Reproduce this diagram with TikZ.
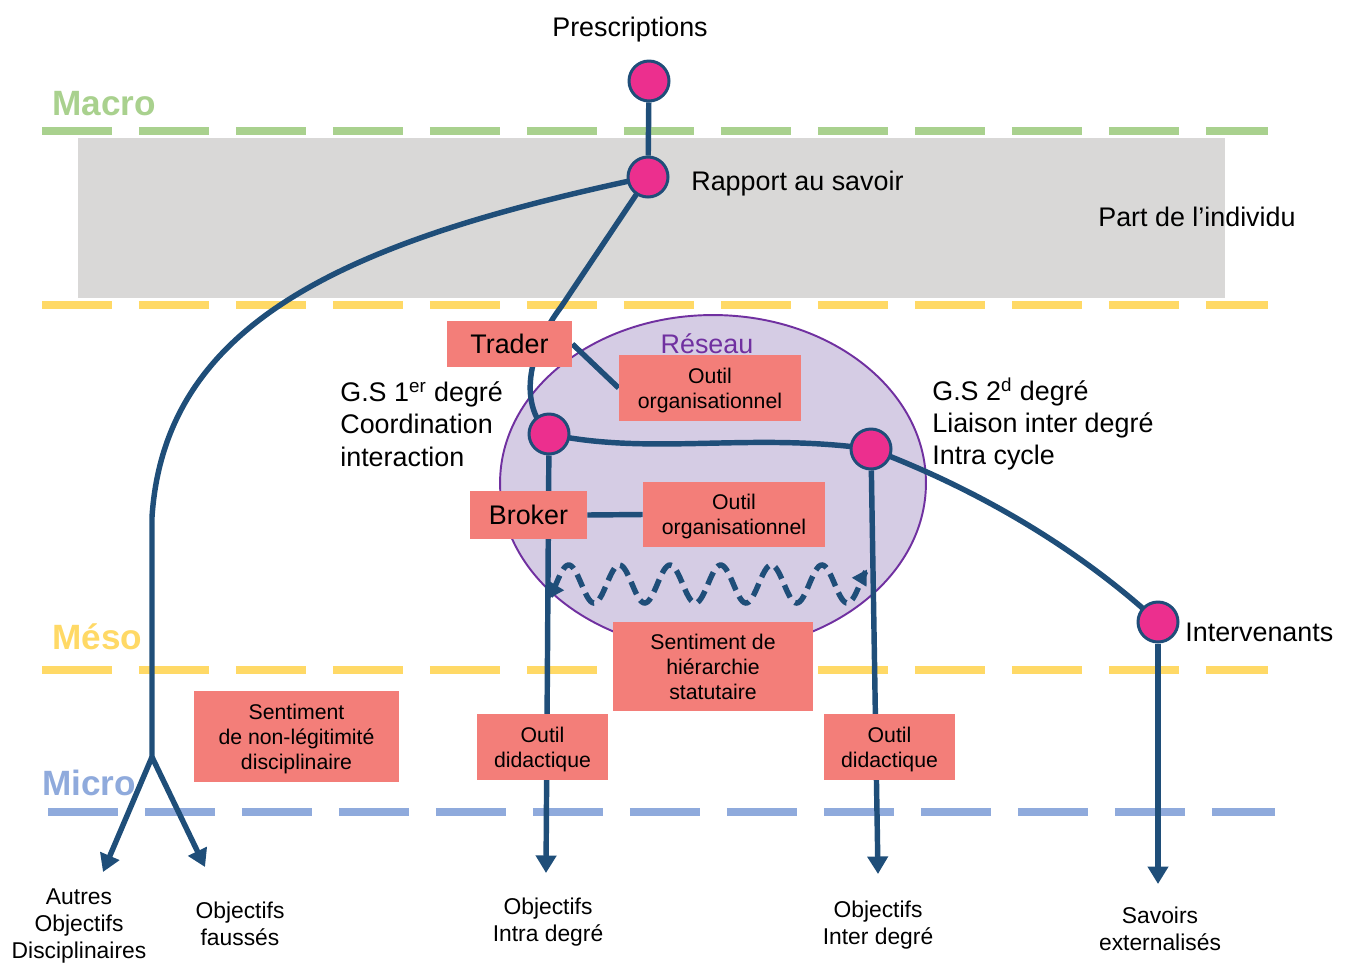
\documentclass[tikz,border=0pt]{standalone}
\usepackage{fontspec}
\setmainfont{Liberation Sans}
\usetikzlibrary{arrows.meta}
\definecolor{lineblue}{HTML}{1F4E79}
\definecolor{hubpink}{HTML}{EC2F8E}
\definecolor{rose}{HTML}{F37E79}
\definecolor{lavender}{HTML}{D5CCE4}
\definecolor{purpleedge}{HTML}{7030A0}
\definecolor{bandgray}{HTML}{D9D8D7}
\definecolor{macrogreen}{HTML}{A9D18E}
\definecolor{mesoyellow}{HTML}{FFD966}
\definecolor{microblue}{HTML}{8FAADC}
\pgfdeclarelayer{back}
\pgfdeclarelayer{wires}
\pgfsetlayers{back,wires,main}

\begin{document}
\begin{tikzpicture}[x=0.02cm, y=-0.02cm,
    hub/.style={circle, draw=lineblue, line width=1.7pt, fill=hubpink, minimum size=0.8cm, inner sep=0pt},
    rosebox/.style={rectangle, fill=rose, align=center, inner sep=0pt, text depth=0pt, font=\fontsize{12.1}{14.2}\selectfont},
    bigtext/.style={font=\fontsize{15.3}{18.4}\selectfont, align=left, inner sep=0pt},
    foot/.style={font=\fontsize{13}{15.3}\selectfont, align=center, inner sep=0pt},
    stratum/.style={line width=5.1pt, dash pattern=on 1.4cm off 0.54cm},
    levelname/.style={font=\fontsize{20}{24}\bfseries\selectfont, anchor=west, inner sep=0pt},
    link/.style={draw=lineblue, line width=3.1pt},
    arrowlink/.style={link, -{Triangle[length=3.5mm, width=4mm]}},
    wave/.style={link, dash pattern=on 0.27cm off 0.14cm, {Triangle[length=3mm, width=3.2mm]}-{Triangle[length=3mm, width=3.2mm]}}]
    \useasboundingbox (0,0) rectangle (1349,964);

    % bands and levels
    \begin{pgfonlayer}{back}
        \fill[bandgray] (78,138) rectangle (1225,298);
        \draw[stratum, macrogreen] (42,131) -- (1268,131);
        \draw[stratum, mesoyellow] (42,305) -- (1268,305);
        \draw[stratum, mesoyellow] (42,670) -- (1268,670);
        \draw[stratum, microblue] (48,812) -- (1275,812);
        \draw[purpleedge, fill=lavender, line width=1.1pt] (713,483) ellipse [x radius=4.26cm, y radius=3.36cm];
    \end{pgfonlayer}

    \node[levelname, text=macrogreen] (macro) at (52,104) {Macro};
    \node[levelname, text=mesoyellow] (meso) at (52,637) {Méso};
    \node[levelname, text=microblue] (micro) at (42,783) {Micro};

    % hubs
    \node[hub] (presc) at (649,81) {};
    \node[hub] (savoir) at (648,177) {};
    \node[hub] (gs1) at (549,434) {};
    \node[hub] (gs2) at (871,449) {};
    \node[hub] (interv) at (1158,622) {};

    % boxes
    \node[rosebox, minimum width=2.5cm, minimum height=0.92cm, font=\fontsize{15.3}{18.4}\selectfont] (trader) at (509.5,344) {Trader};
    \node[rosebox, minimum width=3.64cm, minimum height=1.32cm] (outilA) at (710,388) {Outil\\organisationnel};
    \node[rosebox, minimum width=2.34cm, minimum height=0.96cm, font=\fontsize{15.3}{18.4}\selectfont] (broker) at (528.5,515) {Broker};
    \node[rosebox, minimum width=3.64cm, minimum height=1.3cm] (outilB) at (734,514.5) {Outil\\organisationnel};
    \node[rosebox, minimum width=4cm, minimum height=1.78cm] (hierarchie) at (713,666.5) {Sentiment de\\hiérarchie\\statutaire};
    \node[rosebox, minimum width=4.1cm, minimum height=1.82cm] (nonlegit) at (296.5,736.5) {Sentiment\\de non-légitimité\\disciplinaire};
    \node[rosebox, minimum width=2.62cm, minimum height=1.32cm] (didA) at (542.5,747) {Outil\\didactique};
    \node[rosebox, minimum width=2.62cm, minimum height=1.32cm] (didB) at (889.5,747) {Outil\\didactique};

    % labels
    \node[bigtext] (prescT) at (630,30) {Prescriptions};
    \node[bigtext, anchor=west] (savoirT) at (691,184) {Rapport au savoir};
    \node[bigtext, anchor=west] (individu) at (1098,217) {Part de l’individu};
    \node[bigtext, text=purpleedge] (reseau) at (707,344) {Réseau};
    \node[bigtext, anchor=west] (gs1T) at (340,424)
        {G.S 1\textsuperscript{er} degré\\Coordination\\interaction};
    \node[bigtext, anchor=west] (gs2T) at (932,424)
        {G.S 2\textsuperscript{d} degré\\Liaison inter degré\\Intra cycle};
    \node[bigtext, anchor=west] (intervT) at (1185,632) {Intervenants};
    \node[foot] (autres) at (79,926) {Autres\\Objectifs\\Disciplinaires};
    \node[foot] (fausses) at (240,924) {Objectifs\\faussés};
    \node[foot] (intra) at (548,922) {Objectifs\\Intra degré};
    \node[foot] (inter) at (878,925) {Objectifs\\Inter degré};
    \node[foot] (savoirs) at (1160,929) {Savoirs\\externalisés};

    % arrow ends
    \coordinate (fork) at (152,757);
    \coordinate (tipAutres) at (103,872);
    \coordinate (tipFausses) at (205,867);
    \coordinate (tipIntra) at (546,873);
    \coordinate (tipInter) at (878,874);
    \coordinate (tipSavoirs) at (1158,884);

    % connectors
    \begin{pgfonlayer}{wires}
        \draw[link] (presc) -- (savoir);
        \draw[link] (savoir.center) .. controls (350,240) and (165,320) .. (152,517) -- (fork);
        \draw[arrowlink] (fork) -- (tipAutres);
        \draw[arrowlink] (fork) -- (tipFausses);
        \draw[link] (savoir.center) -- (561,307) .. controls (532,345) and (515,402) .. (gs1.center);
        \draw[link] (gs1.center) .. controls (650,456) and (750,432) .. (gs2.center);
        \draw[link] (gs2.center) .. controls (980,490) and (1080,550) .. (interv.center);
        \draw[arrowlink] (gs1) -- (tipIntra);
        \draw[arrowlink] (gs2) -- (tipInter);
        \draw[arrowlink] (interv) -- (tipSavoirs);
        \draw[link] (trader.east) -- (outilA.west);
        \draw[link] (broker.east) -- (outilB.west);
        \draw[wave] plot[smooth, domain=549:867, samples=200] (\x, {584+19*cos(40+7.107*(\x-549))});
    \end{pgfonlayer}
\end{tikzpicture}
\end{document}
